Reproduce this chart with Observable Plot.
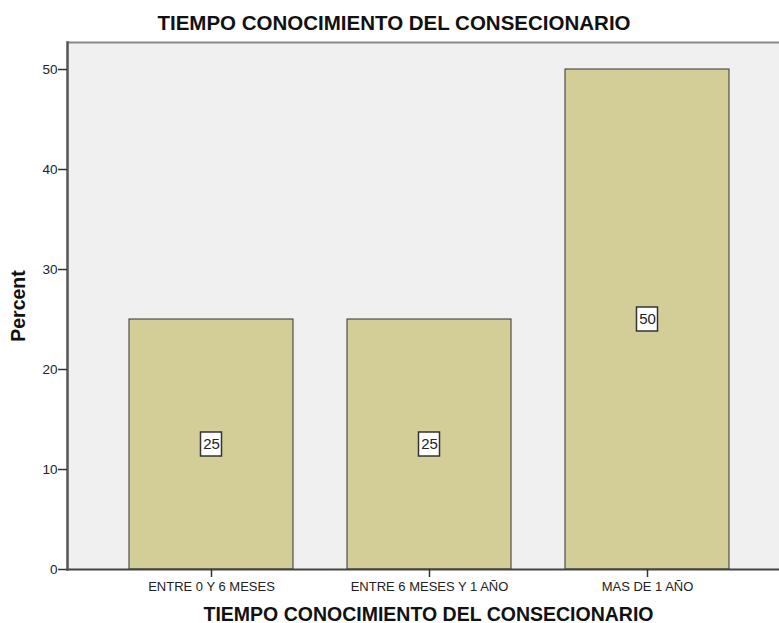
<!DOCTYPE html>
<html>
<head>
<meta charset="utf-8">
<script src="https://cdn.jsdelivr.net/npm/d3@7"></script>
<script src="https://cdn.jsdelivr.net/npm/@observablehq/plot@0.6"></script>
<style>
  html, body { margin: 0; padding: 0; background: #fff; }
  #wrap { position: relative; width: 779px; height: 623px; font-family: "Liberation Sans", Arial, sans-serif; }
  #title { position: absolute; left: 0; top: 11px; width: 788px; text-align: center; font-weight: bold; font-size: 20.5px; color: #111; white-space: nowrap; }
  #chart { position: absolute; left: 0; top: 0; }
</style>
</head>
<body>
<div id="wrap">
  <div id="chart"></div>
  <div id="title">TIEMPO CONOCIMIENTO DEL CONSECIONARIO</div>
</div>
<script>
const categories = ["ENTRE 0 Y 6 MESES", "ENTRE 6 MESES Y 1 AÑO", "MAS DE 1 AÑO"];
const percents = [25, 25, 50];
const yTicks = [0, 10, 20, 30, 40, 50];
const xTitle = "TIEMPO CONOCIMIENTO DEL CONSECIONARIO";
const yTitle = "Percent";

const data = categories.map((c, i) => ({cat: c, pct: percents[i]}));

const chart = Plot.plot({
  width: 779,
  height: 623,
  marginLeft: 67,
  marginRight: 0,
  marginTop: 42,
  marginBottom: 54,
  style: {fontFamily: "'Liberation Sans', Arial, sans-serif", background: "#fff", color: "#222"},
  x: {domain: categories, range: [129, 729], paddingInner: 0.248, paddingOuter: 0},
  y: {domain: [0, 52.7]},
  marks: [
    Plot.frame({fill: "#f0f0f0", stroke: null}),
    Plot.ruleY([52.7], {stroke: "#888", strokeWidth: 2}),
    Plot.barY(data, {x: "cat", y: "pct", fill: "#d3ce97", stroke: "#333", strokeWidth: 1}),
    Plot.rect(data, {x: "cat", y1: d => d.pct / 2, y2: d => d.pct / 2, insetLeft: 71.5, insetRight: 71.5, insetTop: -12, insetBottom: -12, fill: "#fff", stroke: "#333", strokeWidth: 1.5}),
    Plot.text(data, {x: "cat", y: d => d.pct / 2, text: d => String(d.pct), fontSize: 15, fill: "#222"}),
    Plot.ruleY([0], {stroke: "#444", strokeWidth: 2}),
    Plot.frame({anchor: "left", stroke: "#555", strokeWidth: 2.5}),
    Plot.axisY({ticks: yTicks, tickSize: 9, tickPadding: 1, fontSize: 13.5, label: null, stroke: "#333", strokeWidth: 1.5}),
    Plot.axisX({tickSize: 8, tickPadding: 4, fontSize: 13, label: null, stroke: "#333", strokeWidth: 1.5}),
    Plot.text([xTitle], {frameAnchor: "bottom", dy: 51, dx: 5, fontSize: 19.5, fontWeight: "bold", fill: "#111"}),
    Plot.text([yTitle], {frameAnchor: "left", textAnchor: "middle", dx: -49, rotate: -90, fontSize: 19.5, fontWeight: "bold", fill: "#111"})
  ]
});
document.getElementById("chart").appendChild(chart);
</script>
</body>
</html>
